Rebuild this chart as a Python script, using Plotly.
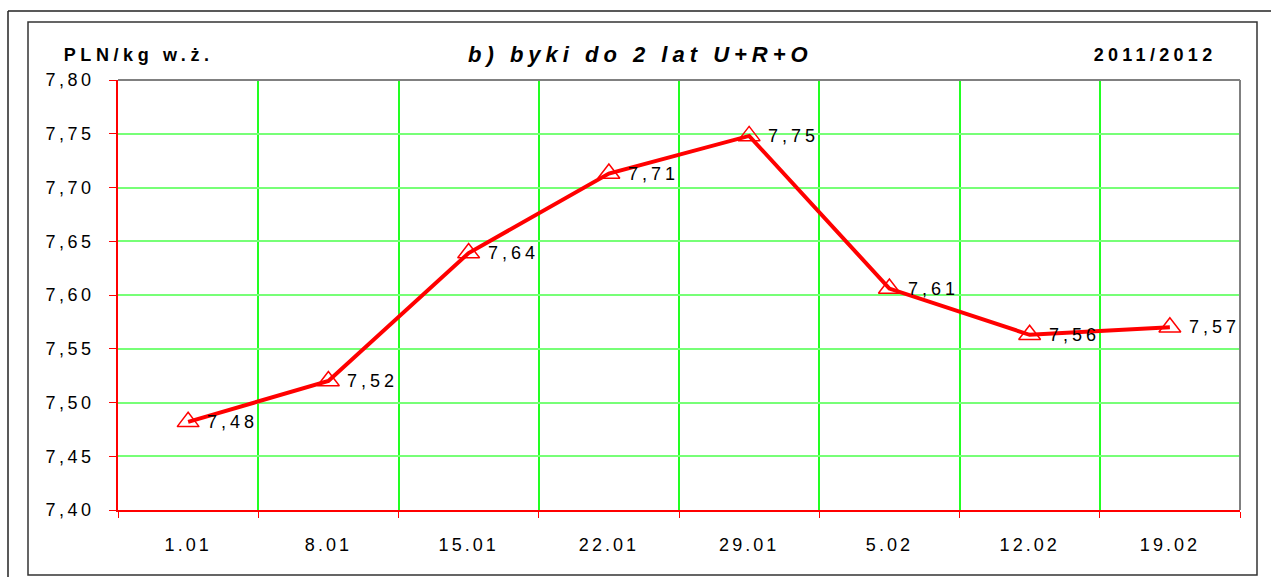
import plotly.graph_objects as go

categories = ["1.01", "8.01", "15.01", "22.01", "29.01", "5.02", "12.02", "19.02"]
prices = [7.482, 7.520, 7.639, 7.713, 7.748, 7.606, 7.563, 7.570]
y_ticks = [7.40, 7.45, 7.50, 7.55, 7.60, 7.65, 7.70, 7.75, 7.80]

W, H = 1271, 577
L, R, T, B = 118, 1240, 80, 510


def px(x):
    return (x - L) / (R - L)


def py(y):
    return (B - y) / (B - T)


labels = [f"{v:.2f}".replace(".", ",") for v in prices]
tick_text = [f"{v:.2f}".replace(".", ",") for v in y_ticks]

FONT = "Liberation Sans, Arial"

fig = go.Figure()
fig.add_trace(go.Scatter(
    x=categories, y=prices, mode="lines+markers",
    line=dict(color="#ff0000", width=4),
    marker=dict(symbol="triangle-up-open", size=19, color="#ff0000",
                line=dict(color="#ff0000", width=1.5)),
    cliponaxis=False, showlegend=False,
))

# category axes place items at index positions 0..n-1
point_labels = [
    dict(text=t, x=i, y=v, xref="x", yref="y", xanchor="left", yanchor="middle",
         xshift=25, showarrow=False,
         font=dict(family=FONT, size=18, color="#000000"))
    for i, (v, t) in enumerate(zip(prices, labels))
]

fig.update_layout(
    width=W, height=H,
    margin=dict(l=L, r=W - R, t=T, b=H - B),
    paper_bgcolor="white", plot_bgcolor="white",
    font=dict(family=FONT, color="#000000"),
    xaxis=dict(
        type="category", tickson="boundaries",
        showgrid=True, gridcolor="#22ff22", gridwidth=1.5,
        showline=True, linecolor="#ff0000", linewidth=1.5,
        ticks="outside", tickcolor="#ff0000", ticklen=6,
        tickfont=dict(size=18), ticklabelstandoff=18,
        zeroline=False, range=[-0.5, 7.5],
    ),
    yaxis=dict(
        range=[7.40, 7.80], tickvals=y_ticks, ticktext=tick_text,
        showgrid=True, gridcolor="#77ff77", gridwidth=1.5,
        showline=True, linecolor="#ff0000", linewidth=1.5,
        ticks="outside", tickcolor="#ff0000", ticklen=7,
        tickfont=dict(size=18), ticklabelstandoff=11,
        zeroline=False,
    ),
    shapes=[
        dict(type="line", xref="paper", yref="paper", x0=0, x1=1, y0=1, y1=1,
             line=dict(color="#808080", width=2)),
        dict(type="line", xref="paper", yref="paper", x0=1, x1=1, y0=0, y1=1,
             line=dict(color="#808080", width=2)),
        dict(type="rect", xref="paper", yref="paper",
             x0=px(28), x1=px(1257), y0=py(575), y1=py(22),
             line=dict(color="#333333", width=1.5), layer="below"),
        dict(type="line", xref="paper", yref="paper",
             x0=px(8), x1=px(1275), y0=py(11), y1=py(11),
             line=dict(color="#222222", width=1.5)),
        dict(type="line", xref="paper", yref="paper",
             x0=px(8), x1=px(8), y0=py(11), y1=py(580),
             line=dict(color="#222222", width=1.5)),
    ],
    annotations=[
        dict(text="<b>PLN/kg w.ż.</b>", xref="paper", yref="paper",
             x=px(138), y=py(55), xanchor="center", yanchor="middle",
             showarrow=False, font=dict(size=18, color="#000000")),
        dict(text="<b><i>b) byki do 2 lat U+R+O</i></b>", xref="paper", yref="paper",
             x=px(640), y=py(55), xanchor="center", yanchor="middle",
             showarrow=False, font=dict(size=22, color="#000000")),
        dict(text="<b>2011/2012</b>", xref="paper", yref="paper",
             x=px(1155), y=py(55), xanchor="center", yanchor="middle",
             showarrow=False, font=dict(size=18, color="#000000")),
    ] + point_labels,
)

post = """
document.body.style.margin = '0';
var gd = document.getElementsByClassName('plotly-graph-div')[0];
function spacing(sel, v) {
  gd.querySelectorAll(sel).forEach(function(e){ e.style.letterSpacing = v; });
}
spacing('.xtick text', '3px');
spacing('.ytick text', '3.5px');
spacing('.annotation-text', '4px');
var anns = gd.querySelectorAll('.annotation-text');
if (anns.length > 0) { anns[0].style.letterSpacing = '4.6px'; }
if (anns.length > 1) { anns[1].style.letterSpacing = '5px'; }
if (anns.length > 2) { anns[2].style.letterSpacing = '4.3px'; }
"""

fig.write_html("out.html", post_script=post, config={"displayModeBar": False})
